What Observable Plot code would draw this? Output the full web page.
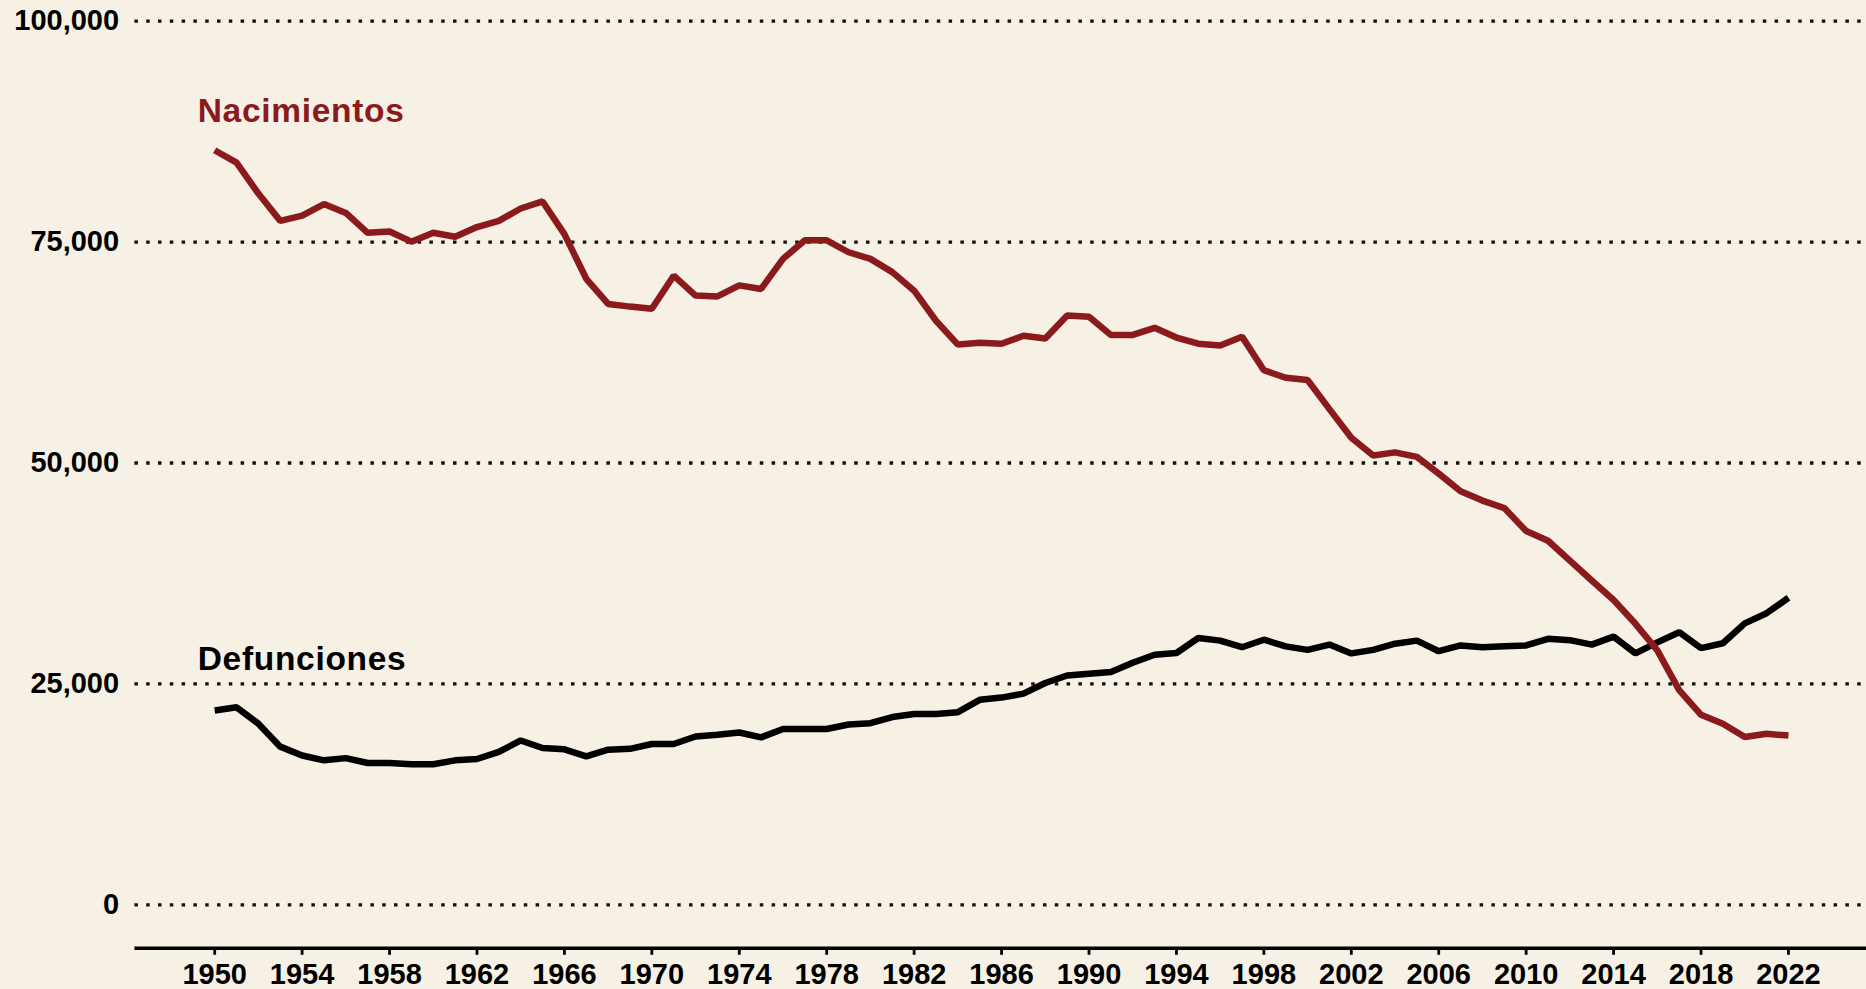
<!DOCTYPE html>
<html>
<head>
<meta charset="utf-8">
<script src="https://cdn.jsdelivr.net/npm/d3@7"></script>
<script src="https://cdn.jsdelivr.net/npm/@observablehq/plot@0.6"></script>
<style>
  html, body { margin: 0; padding: 0; background: #f6f1e4; }
  #chart svg { display: block; }
</style>
</head>
<body>
<div id="chart"></div>
<script>
const years = d3.range(1950, 2023);
const nacimientos = [
  85400, 84000, 80500, 77400, 78000, 79300, 78300, 76050, 76200, 75050,
  76050, 75600, 76700, 77400, 78800, 79600, 75900, 70850, 68000, 67700,
  67450, 71200, 68950, 68850, 70100, 69700, 73100, 75200, 75200, 73850,
  73100, 71600, 69500, 66100, 63400, 63600, 63500, 64400, 64100, 66700,
  66550, 64500, 64500, 65300, 64200, 63500, 63300, 64300, 60500, 59650,
  59400, 56100, 52850, 50850, 51200, 50700, 48800, 46800, 45750, 44900,
  42300, 41200, 38950, 36700, 34500, 31800, 28800, 24300, 21500, 20500,
  19000, 19350, 19150
];
const defunciones = [
  22000, 22350, 20500, 17900, 16900, 16350, 16600, 16050, 16050, 15900,
  15900, 16350, 16500, 17300, 18600, 17750, 17600, 16800, 17550, 17650,
  18200, 18200, 19050, 19250, 19500, 18950, 19900, 19900, 19900, 20400,
  20550, 21250, 21600, 21600, 21800, 23200, 23450, 23900, 25100, 25950,
  26150, 26350, 27400, 28300, 28500, 30200, 29900, 29150, 30000, 29250,
  28850, 29450, 28450, 28850, 29550, 29900, 28700, 29350, 29150, 29250,
  29350, 30100, 29950, 29450, 30350, 28450, 29700, 30850, 29050, 29600,
  31850, 33000, 34750
];
const yTicks = [0, 25000, 50000, 75000, 100000];
const xTicks = d3.range(1950, 2023, 4);
const seriesLabels = ["Nacimientos", "Defunciones"];

const red = "#8b1a1c";
const births = years.map((year, i) => ({year, value: nacimientos[i]}));
const deaths = years.map((year, i) => ({year, value: defunciones[i]}));
const yDomain = [-4923, 100000];

const chart = Plot.plot({
  width: 1866,
  height: 989,
  marginLeft: 134.4,
  marginRight: 0,
  marginTop: 20.7,
  marginBottom: 41.2,
  style: {background: "#f6f1e4", fontFamily: "'Liberation Sans', Arial, sans-serif", color: "#000"},
  x: {domain: [1946.35, 2025.57]},
  y: {domain: yDomain},
  marks: [
    Plot.ruleY(yTicks, {stroke: "#111", strokeWidth: 3.3, strokeDasharray: "3.5,8.3"}),
    Plot.axisY({ticks: yTicks, tickSize: 0, tickPadding: 15.8, tickFormat: d3.format(","), fontSize: 29, fontWeight: "bold", label: null}),
    Plot.axisX({ticks: xTicks, tickSize: 7, tickPadding: 8, strokeWidth: 2.8, tickFormat: d => String(d), fontSize: 29, fontWeight: "bold", label: null}),
    Plot.ruleY([yDomain[0]], {stroke: "#000", strokeWidth: 3.5}),
    Plot.line(deaths, {x: "year", y: "value", stroke: "#000", strokeWidth: 6.5, strokeLinejoin: "miter", strokeLinecap: "butt"}),
    Plot.line(births, {x: "year", y: "value", stroke: red, strokeWidth: 6.5, strokeLinejoin: "miter", strokeLinecap: "butt"}),
    Plot.text(births, Plot.selectFirst({x: "year", y: "value", text: () => seriesLabels[0], fill: red, fontSize: 33.5, fontWeight: "bold", textAnchor: "start", dx: -17, dy: -38.8})),
    Plot.text(deaths, Plot.selectFirst({x: "year", y: "value", text: () => seriesLabels[1], fill: "#000", fontSize: 33.5, fontWeight: "bold", textAnchor: "start", dx: -17, dy: -51.5}))
  ]
});
d3.select(chart).selectAll('g[aria-label="text"] text').attr("letter-spacing", 0.7);
document.getElementById("chart").append(chart);
</script>
</body>
</html>
